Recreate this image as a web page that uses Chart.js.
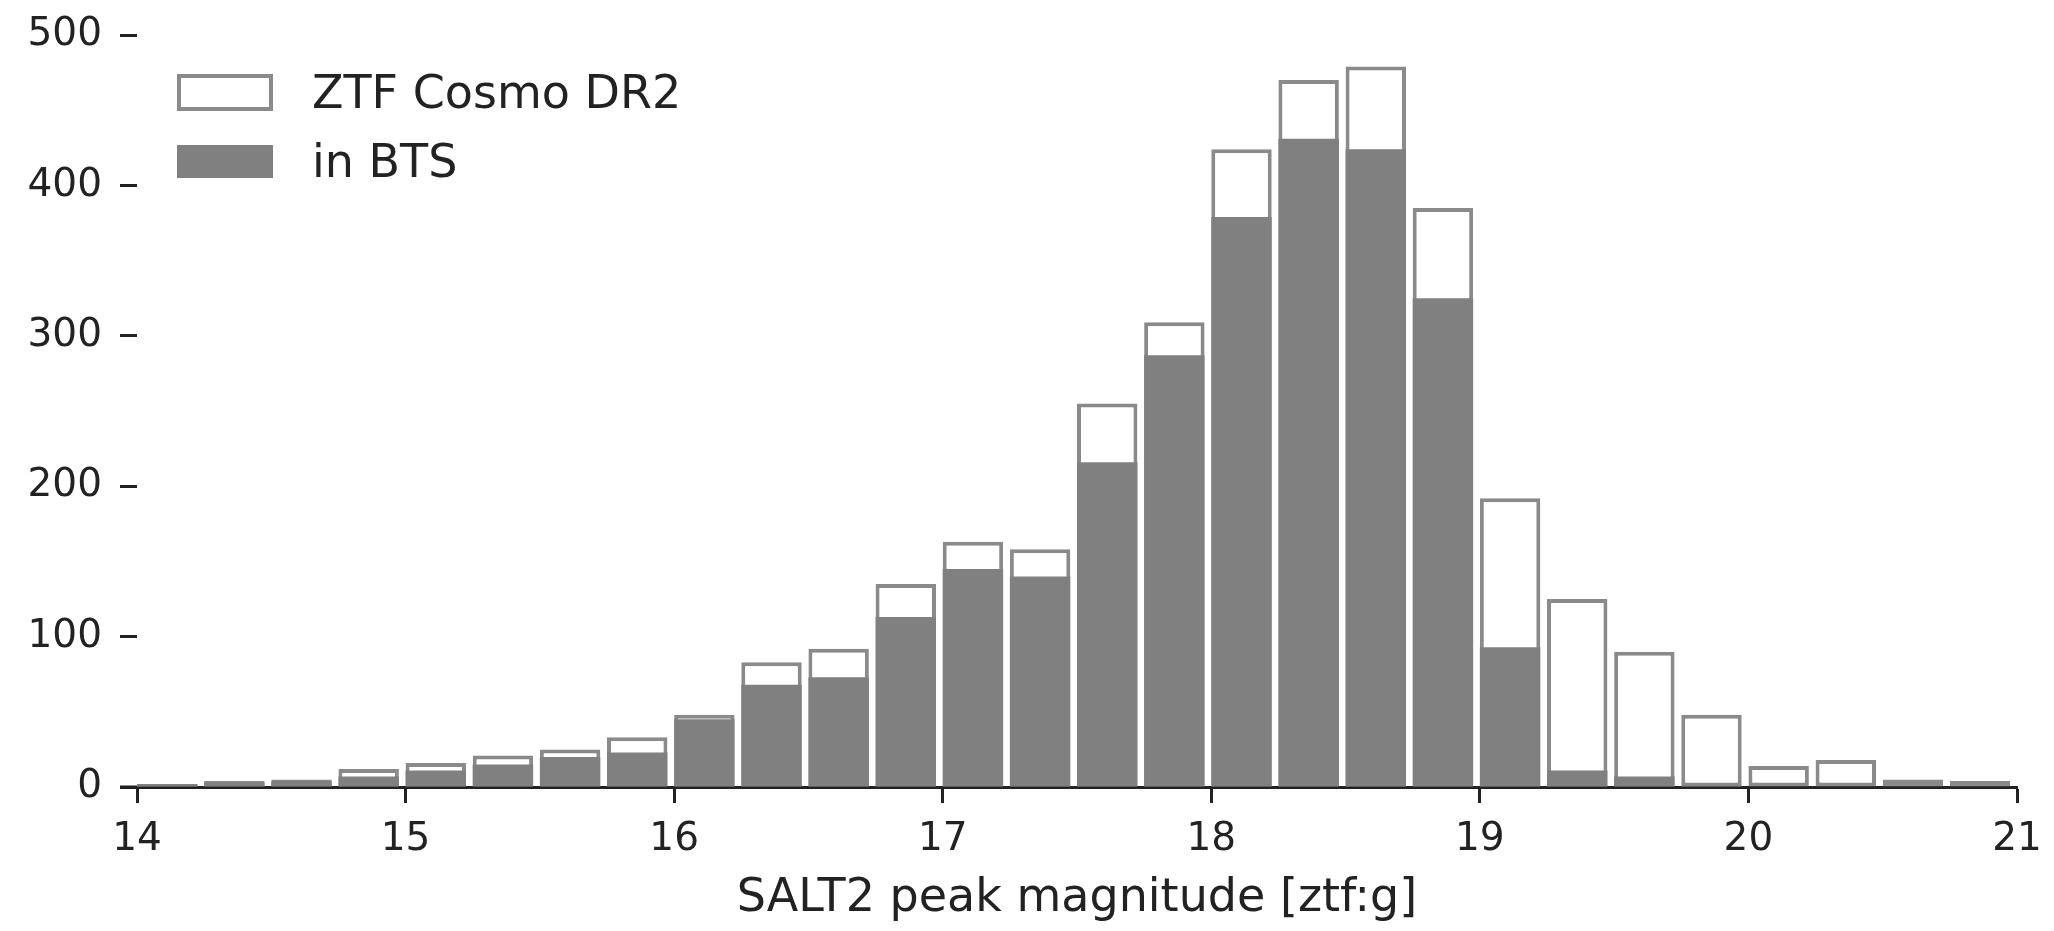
<!DOCTYPE html>
<html>
<head>
<meta charset="utf-8">
<script src="https://cdn.jsdelivr.net/npm/chart.js@4.4.1/dist/chart.umd.min.js"></script>
<style>
  html, body { margin: 0; padding: 0; background: #fff; }
  #wrap { width: 2054px; height: 931px; }
</style>
</head>
<body>
<div id="wrap"><canvas id="hist" width="2054" height="931"></canvas></div>
<script>
// histogram bins: left edges, 0.25 mag wide
const binEdges = [14.0, 14.25, 14.5, 14.75, 15.0, 15.25, 15.5, 15.75,
                  16.0, 16.25, 16.5, 16.75, 17.0, 17.25, 17.5, 17.75,
                  18.0, 18.25, 18.5, 18.75, 19.0, 19.25, 19.5, 19.75,
                  20.0, 20.25, 20.5, 20.75];
const binWidth = 0.25;

// counts per bin
const cosmoCounts = [2, 4, 5, 12, 16, 21, 25, 33, 48, 83, 92, 135, 163, 158,
                     255, 309, 424, 470, 479, 385, 192, 125, 90, 48, 14, 18, 5, 4];
const btsCounts   = [2, 3, 4, 7, 11, 15, 20, 23, 45, 68, 73, 113, 145, 140,
                     216, 287, 379, 431, 424, 325, 93, 11, 7, 1, 0, 0, 0, 0];

const seriesNames = ['ZTF Cosmo DR2', 'in BTS'];
const xTicks = [14, 15, 16, 17, 18, 19, 20, 21];
const yTicks = [0, 100, 200, 300, 400, 500];

const ink = '#222222';
const gray = '#808080';
const edgeGray = '#8a8a8a';

// bars fill 90% of the bin, starting at the left edge
const toPoints = counts => binEdges.map((e, i) => ({ x: e + binWidth * 0.45, y: counts[i] }));

// legend drawn inside the axes, top left
const legendBox = {
  id: 'legendBox',
  afterDraw(chart) {
    const { ctx, chartArea } = chart;
    const x = chartArea.left + 40;
    const y = chartArea.top;
    ctx.save();
    ctx.fillStyle = '#ffffff';
    ctx.fillRect(x, y + 39, 96, 37);
    ctx.strokeStyle = edgeGray;
    ctx.lineWidth = 4;
    ctx.strokeRect(x + 2, y + 41, 92, 33);
    ctx.fillStyle = gray;
    ctx.fillRect(x, y + 110, 96, 33);
    ctx.fillStyle = ink;
    ctx.font = '46px "DejaVu Sans"';
    ctx.textBaseline = 'alphabetic';
    ctx.fillText(seriesNames[0], x + 135, y + 73);
    ctx.fillText(seriesNames[1], x + 135, y + 142);
    ctx.restore();
  }
};

// x spine runs a little past the y tick marks
const spineStub = {
  id: 'spineStub',
  afterDraw(chart) {
    const { ctx, chartArea } = chart;
    ctx.save();
    ctx.strokeStyle = ink;
    ctx.lineWidth = 3;
    ctx.beginPath();
    ctx.moveTo(chartArea.left - 17, chartArea.bottom);
    ctx.lineTo(chartArea.left, chartArea.bottom);
    ctx.stroke();
    ctx.restore();
  }
};

Chart.defaults.font.family = '"DejaVu Sans", sans-serif';
Chart.defaults.color = ink;

new Chart(document.getElementById('hist'), {
  type: 'bar',
  data: {
    datasets: [
      {
        label: seriesNames[1],
        data: toPoints(btsCounts),
        backgroundColor: gray,
        borderWidth: 0,
        grouped: false,
        order: 0
      },
      {
        label: seriesNames[0],
        data: toPoints(cosmoCounts),
        backgroundColor: '#ffffff',
        borderColor: edgeGray,
        borderWidth: 4,
        borderSkipped: false,
        grouped: false,
        order: 1
      }
    ]
  },
  options: {
    responsive: false,
    animation: false,
    events: [],
    layout: { padding: { top: 35, right: 37, left: 0, bottom: 0 } },
    datasets: { bar: { barPercentage: 0.9, categoryPercentage: 1.0 } },
    plugins: {
      legend: { display: false },
      tooltip: { enabled: false }
    },
    scales: {
      x: {
        type: 'linear',
        offset: false,
        min: xTicks[0],
        max: xTicks[xTicks.length - 1],
        afterBuildTicks: s => { s.ticks = xTicks.map(v => ({ value: v })); },
        afterFit: s => { s.height = 144; s.paddingLeft = 0; s.paddingRight = 0; },
        border: { display: true, color: ink, width: 3 },
        grid: { offset: false, drawOnChartArea: false, drawTicks: true, tickLength: 16, tickWidth: 3, tickColor: ink },
        ticks: { font: { size: 39 }, padding: 13, maxRotation: 0, color: ink },
        title: {
          display: true,
          text: 'SALT2 peak magnitude [ztf:g]',
          font: { size: 46 },
          color: ink,
          padding: { top: 0, bottom: 4 }
        }
      },
      y: {
        min: yTicks[0],
        max: yTicks[yTicks.length - 1],
        afterBuildTicks: s => { s.ticks = yTicks.map(v => ({ value: v })); },
        afterFit: s => { s.width = 137; s.paddingTop = 0; s.paddingBottom = 0; },
        border: { display: false },
        grid: { drawOnChartArea: false, drawTicks: true, tickLength: 17, tickWidth: 3, tickColor: ink },
        ticks: { font: { size: 39 }, padding: 18, color: ink }
      }
    }
  },
  plugins: [legendBox, spineStub]
});
</script>
</body>
</html>
